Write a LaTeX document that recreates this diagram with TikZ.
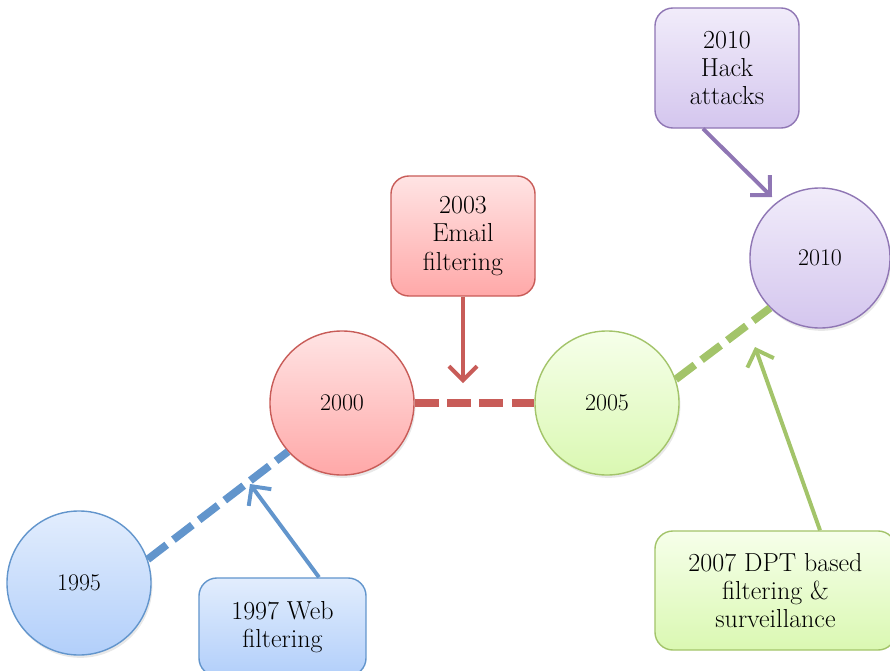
\documentclass[tikz,border=0pt]{standalone}
\usepackage{tikz}
\usetikzlibrary{arrows.meta,positioning,shapes,calc,shadows}
\definecolor{blueline}{RGB}{98,149,204}
\definecolor{bluetop}{RGB}{226,237,253}
\definecolor{bluebot}{RGB}{178,207,250}
\definecolor{redline}{RGB}{200,92,88}
\definecolor{redtop}{RGB}{255,228,228}
\definecolor{redbot}{RGB}{255,168,168}
\definecolor{greenline}{RGB}{163,196,106}
\definecolor{greentop}{RGB}{246,255,234}
\definecolor{greenbot}{RGB}{218,248,178}
\definecolor{purpleline}{RGB}{143,118,180}
\definecolor{purpletop}{RGB}{241,236,250}
\definecolor{purplebot}{RGB}{212,198,238}

\begin{document}
\begin{tikzpicture}[x=0.025cm, y=-0.025cm,
    year/.style={circle, minimum size=3.6cm, line width=1pt, inner sep=0pt,
      font=\fontsize{17}{20}\selectfont,
      drop shadow={opacity=0.18, shadow xshift=1pt, shadow yshift=-2pt}},
    event/.style={rectangle, rounded corners=0.45cm, line width=1pt, align=center,
      font=\fontsize{18.5}{20}\selectfont},
    bluefill/.style={top color=bluetop, bottom color=bluebot, draw=blueline},
    redfill/.style={top color=redtop, bottom color=redbot, draw=redline},
    greenfill/.style={top color=greentop, bottom color=greenbot, draw=greenline},
    purplefill/.style={top color=purpletop, bottom color=purplebot, draw=purpleline},
    link/.style={line width=5.5pt, dash pattern=on 17pt off 6pt},
    pointer/.style={line width=2.8pt, -{Straight Barb[length=10pt,width=20pt]}}]
        \useasboundingbox (0,0) rectangle (890,671);
        % years on the time line
        \node[year, bluefill] (y1995) at (79,583) {1995};
        \node[year, redfill] (y2000) at (342,403) {2000};
        \node[year, greenfill] (y2005) at (607,403) {2005};
        \node[year, purplefill, minimum size=3.5cm] (y2010) at (820,258) {2010};
        % events
        \node[event, bluefill, minimum width=4.175cm, minimum height=2.45cm] (web) at (282.5,627) {1997 Web\\filtering};
        \node[event, redfill, minimum width=3.6cm, minimum height=3cm] (email) at (463,236) {2003\\Email\\filtering};
        \node[event, purplefill, minimum width=3.6cm, minimum height=3cm] (hack) at (727,68) {2010\\Hack\\attacks};
        \node[event, greenfill, minimum width=6.025cm, minimum height=2.975cm] (dpt) at (775.5,590.5) {2007 DPT based\\filtering \&\\surveillance};
        % dashed links
        \draw[link, blueline] (y1995.19) -- (y2000.222);
        \draw[link, redline] (y2000) -- (y2005);
        \draw[link, greenline] (y2005.19) -- (y2010.225);
        % pointers
        \coordinate (webtip) at (250,484);
        \coordinate (emailtip) at (463,383);
        \coordinate (hacktip) at (772,197);
        \coordinate (dpttip) at (755,347);
        \draw[pointer, blueline] ($(web.north)+(36.5,0)$) -- (webtip);
        \draw[pointer, redline] (email.south) -- (emailtip);
        \draw[pointer, purpleline] ($(hack.south)+(-24,0)$) -- (hacktip);
        \draw[pointer, greenline] ($(dpt.north)+(44.5,0)$) -- (dpttip);
    \end{tikzpicture}
\end{document}
